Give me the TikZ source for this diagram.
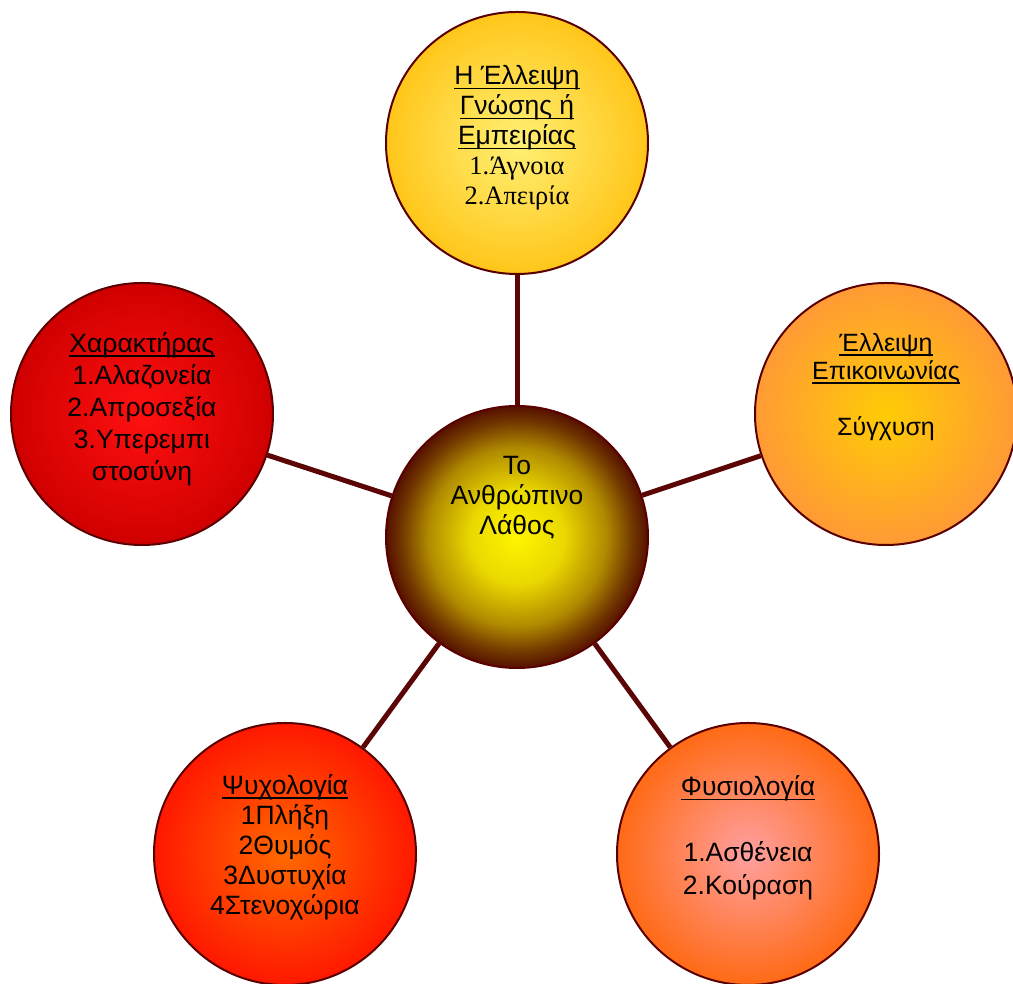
\documentclass[tikz,border=0pt]{standalone}
\usepackage{fontspec}
\setmainfont{Liberation Sans}
\newfontfamily\serifgr{Liberation Serif}
\newcommand{\ulbar}[1]{\setbox0\hbox{#1}\rlap{\rule[-4.5pt]{\wd0}{1.6pt}}\box0}
\definecolor{edgecol}{HTML}{5A0000}
\definecolor{linkcol}{HTML}{5C0505}
\definecolor{tIn}{HTML}{FFF075}
\definecolor{tOut}{HTML}{FFC61A}
\definecolor{lIn}{HTML}{FF1010}
\definecolor{lOut}{HTML}{D00000}
\definecolor{rIn}{HTML}{FFCC05}
\definecolor{rOut}{HTML}{FF9A35}
\definecolor{cA}{HTML}{FFF500}
\definecolor{cB}{HTML}{EAD800}
\definecolor{cC}{HTML}{B08A00}
\definecolor{cD}{HTML}{723800}
\definecolor{cE}{HTML}{561000}
\definecolor{blIn}{HTML}{FF6A00}
\definecolor{blOut}{HTML}{FF1800}
\definecolor{brIn}{HTML}{FFA0A0}
\definecolor{brOut}{HTML}{FF6A15}
\pgfdeclareradialshading{centreball}{\pgfpoint{0bp}{0bp}}{color(0bp)=(cA); color(9bp)=(cB); color(17bp)=(cC); color(22bp)=(cD); color(25bp)=(cE); color(50bp)=(cE)}
\tikzset{
  bubble/.style={circle, draw=edgecol, line width=2pt, minimum size=262pt, inner sep=0pt, shading=radial},
  label/.style={align=center, font=\fontsize{26.5pt}{30pt}\selectfont, text=black, inner sep=0pt},
  link/.style={draw=linkcol, line width=5pt}
}
\begin{document}
\begin{tikzpicture}[x=1pt,y=1pt]
\useasboundingbox[fill=white] (0,0) rectangle (1013,984);
\node[bubble, inner color=tIn, outer color=tOut] (T) at (517,841) {};
\node[bubble, inner color=lIn, outer color=lOut] (L) at (142,570) {};
\node[bubble, inner color=rIn, outer color=rOut] (R) at (886,570) {};
\node[bubble, shading=centreball] (C) at (517,447) {};
\node[bubble, inner color=blIn, outer color=blOut] (BL) at (285,130) {};
\node[bubble, inner color=brIn, outer color=brOut] (BR) at (748,130) {};
\draw[link] (C) -- (T);
\draw[link] (C) -- (L);
\draw[link] (C) -- (R);
\draw[link] (C) -- (BL);
\draw[link] (C) -- (BR);
\node[label] (tT) at (517,846) {\ulbar{Η Έλλειψη}\\\ulbar{Γνώσης ή}\\\ulbar{Εμπειρίας}\\{\serifgr 1.Άγνοια}\\{\serifgr 2.Απειρία}};
\node[label, font=\fontsize{26.5pt}{32pt}\selectfont] (tL) at (142,575) {\ulbar{Χαρακτήρας}\\1.Αλαζονεία\\2.Απροσεξία\\3.Υπερεμπι\\στοσύνη};
\node[label, font=\fontsize{25pt}{28pt}\selectfont] (tR) at (886,597) {\ulbar{Έλλειψη}\\\ulbar{Επικοινωνίας}\\[28pt]Σύγχυση};
\node[label] (tC) at (517,486) {Το\\Ανθρώπινο\\Λάθος};
\node[label] (tBL) at (285,137) {\ulbar{Ψυχολογία}\\1Πλήξη\\2Θυμός\\3Δυστυχία\\4Στενοχώρια};
\node[label, font=\fontsize{26.5pt}{33pt}\selectfont] (tBR) at (748,146) {\ulbar{Φυσιολογία}\\[33pt]1.Ασθένεια\\2.Κούραση};
\end{tikzpicture}
\end{document}
